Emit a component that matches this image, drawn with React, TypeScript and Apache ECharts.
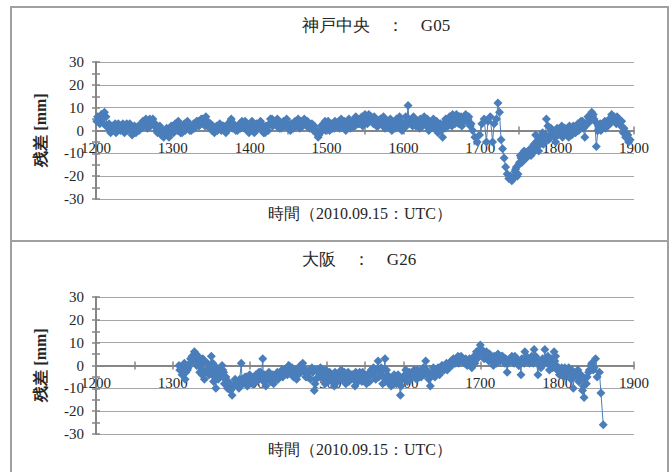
import { useEffect, useRef } from "react";
import * as echarts from "echarts";

const kobeTitle = "神戸中央　：　G05";
const osakaTitle = "大阪　：　G26";
const yName = "残差 [mm]";
const xName = "時間（2010.09.15：UTC）";

const xMin = 1200;
const xMax = 1900;
const yMin = -30;
const yMax = 30;

// 神戸中央 G05 residuals [time, mm]
const kobeData: number[][] = [
  [1201, 4], [1204, 5], [1207, 7], [1210, 3], [1213, 6], [1216, 1], [1219, -1], [1222, 2], [1225, 3], [1228, 0],
  [1231, 2], [1234, 1], [1237, -1], [1240, 3], [1243, 2], [1246, 0], [1249, 1], [1252, -1], [1255, 2], [1258, 1],
  [1261, 4], [1264, 3], [1267, 1], [1270, 5], [1273, 4], [1276, 2], [1279, 0], [1282, 1], [1285, -2], [1288, -3],
  [1291, -1], [1294, -2], [1297, 0], [1300, 1], [1303, 3], [1306, 0], [1309, 2], [1312, -1], [1315, 3], [1318, 1],
  [1321, 2], [1324, 0], [1327, 3], [1330, 2], [1333, 4], [1336, 3], [1339, 5], [1342, 2], [1345, 4], [1348, 1],
  [1351, 0], [1354, -1], [1357, 2], [1360, 1], [1363, 0], [1366, 2], [1369, -1], [1372, 3], [1375, 4], [1378, 1],
  [1381, 2], [1384, 0], [1387, 3], [1390, 4], [1393, 1], [1396, 2], [1399, -1], [1402, 3], [1405, 1], [1408, 0],
  [1411, 2], [1414, 4], [1417, 1], [1420, -1], [1423, 2], [1426, 3], [1429, 5], [1432, 4], [1435, 2], [1438, 3],
  [1441, 1], [1444, 4], [1447, 2], [1450, 3], [1453, 0], [1456, 2], [1459, 4], [1462, 3], [1465, 1], [1468, 4],
  [1471, 5], [1474, 2], [1477, 3], [1480, 1], [1483, 0], [1486, -1], [1489, -3], [1492, -1], [1495, 1], [1498, 4],
  [1501, 2], [1504, 0], [1507, 3], [1510, 1], [1513, 2], [1516, 4], [1519, 5], [1522, 2], [1525, 0], [1528, 3],
  [1531, 1], [1534, 4], [1537, 2], [1540, 5], [1543, 3], [1546, 6], [1549, 4], [1552, 5], [1555, 7], [1558, 6],
  [1561, 3], [1564, 4], [1567, 2], [1570, 5], [1573, 3], [1576, 1], [1579, 4], [1582, 2], [1585, 0], [1588, 3],
  [1591, 5], [1594, 2], [1597, 4], [1600, 1], [1603, 6], [1606, 11], [1609, 4], [1612, 2], [1615, 5], [1618, 3],
  [1621, 1], [1624, 4], [1627, 6], [1630, 2], [1633, 0], [1636, 3], [1639, 5], [1642, 2], [1645, -1], [1648, 3],
  [1651, -3], [1654, 1], [1657, 4], [1660, 6], [1663, 2], [1666, 5], [1669, 7], [1672, 3], [1675, 6], [1678, 4],
  [1681, 7], [1684, 5], [1687, 2], [1690, 0], [1693, -3], [1696, -5], [1699, -2], [1702, 3], [1705, 5], [1708, -5],
  [1710, 4], [1713, 6], [1716, -5], [1718, 3], [1721, 5], [1723, 12], [1725, 8], [1727, -4], [1729, -8], [1731, -12],
  [1733, -16], [1735, -19], [1737, -21], [1739, -20], [1741, -22], [1743, -21], [1745, -18], [1747, -16], [1749, -19], [1751, -14],
  [1753, -12], [1756, -13], [1759, -10], [1762, -11], [1765, -8], [1768, -10], [1770, -6], [1772, -2], [1775, -7], [1778, -4],
  [1781, -1], [1784, -5], [1786, 5], [1788, 2], [1791, -2], [1794, 0], [1797, -3], [1800, 1], [1803, -1], [1806, 2],
  [1809, -2], [1812, 0], [1815, -3], [1818, 1], [1821, 2], [1824, -1], [1827, 3], [1830, 2], [1833, 4], [1836, -3],
  [1839, 3], [1842, 5], [1845, 8], [1847, 7], [1849, 4], [1851, -7], [1853, 0], [1856, 3], [1859, 1], [1862, 4],
  [1865, 2], [1868, 5], [1871, 7], [1874, 6], [1877, 3], [1880, 5], [1883, 2], [1886, -1], [1889, -3], [1892, -2],
  [1895, -4],
];

// 神戸中央 G05 residuals, in-between epochs [time, mm]
const kobeDataMid: number[][] = [
  [1202, 6], [1205, 3], [1208, 5], [1211, 8], [1214, 2], [1217, 3], [1220, 0], [1223, 1], [1226, -1], [1229, 3],
  [1232, 0], [1235, 3], [1238, 2], [1241, 0], [1244, 3], [1247, -2], [1250, 2], [1253, 1], [1256, 0], [1259, 3],
  [1262, 2], [1265, 5], [1268, 3], [1271, 2], [1274, 5], [1277, 3], [1280, -1], [1283, 2], [1286, 0], [1289, -2],
  [1292, 1], [1295, -3], [1298, 2], [1301, -1], [1304, 1], [1307, 4], [1310, -1], [1313, 2], [1316, 0], [1319, 4],
  [1322, 0], [1325, 2], [1328, 1], [1331, 4], [1334, 2], [1337, 5], [1340, 3], [1343, 6], [1346, 2], [1349, 3],
  [1352, 2], [1355, 1], [1358, 0], [1361, 3], [1364, 2], [1367, 0], [1370, 2], [1373, 1], [1376, 5], [1379, 3],
  [1382, 0], [1385, 2], [1388, 1], [1391, 2], [1394, 4], [1397, 0], [1400, 2], [1403, 4], [1406, -1], [1409, 3],
  [1412, 1], [1415, 3], [1418, -1], [1421, 2], [1424, 0], [1427, 5], [1430, 2], [1433, 3], [1436, 5], [1439, 1],
  [1442, 3], [1445, 2], [1448, 5], [1451, 1], [1454, 3], [1457, 1], [1460, 2], [1463, 5], [1466, 3], [1469, 2],
  [1472, 3], [1475, 4], [1478, 1], [1481, 3], [1484, 2], [1487, 0], [1490, -2], [1493, 2], [1496, 3], [1499, 0],
  [1502, 4], [1505, 2], [1508, 1], [1511, 4], [1514, 3], [1517, 1], [1520, 3], [1523, 4], [1526, 2], [1529, 5],
  [1532, 3], [1535, 2], [1538, 6], [1541, 3], [1544, 5], [1547, 2], [1550, 7], [1553, 3], [1556, 5], [1559, 4],
  [1562, 6], [1565, 2], [1568, 4], [1571, 3], [1574, 6], [1577, 3], [1580, 2], [1583, 5], [1586, 3], [1589, 1],
  [1592, 3], [1595, 6], [1598, 0], [1601, 3], [1604, 2], [1607, 5], [1610, 3], [1613, 6], [1616, 2], [1619, 4],
  [1622, 5], [1625, 2], [1628, 3], [1631, 5], [1634, 2], [1637, 4], [1640, 1], [1643, 4], [1646, 2], [1649, 0],
  [1652, 3], [1655, 5], [1658, 2], [1661, 4], [1664, 7], [1667, 3], [1670, 5], [1673, 6], [1676, 2], [1679, 6],
  [1682, 4], [1685, 6], [1688, 3],
  [1744, -20], [1746, -17], [1748, -20], [1750, -15], [1752, -11], [1754, -14], [1757, -9], [1760, -12], [1763, -9], [1766, -11],
  [1769, -8], [1773, -5], [1776, -9], [1779, -3], [1782, -6], [1785, -2], [1789, -4], [1792, 1], [1795, -2], [1798, -5],
  [1801, -2], [1804, 0], [1807, -3], [1810, 1], [1813, -1], [1816, 2], [1819, -2], [1822, 0], [1825, 2], [1828, 0],
  [1831, 4], [1834, 1], [1837, 2], [1840, 6], [1843, 4], [1846, 6], [1848, 5], [1854, 2], [1857, 0], [1860, 3],
  [1863, 1], [1866, 4], [1869, 3], [1872, 5], [1875, 4], [1878, 6], [1881, 3], [1884, 4], [1887, 1], [1890, -1],
  [1893, -5],
];

// 大阪 G26 residuals [time, mm]
const osakaData: number[][] = [
  [1308, 0], [1311, -1], [1314, -3], [1316, -6], [1319, -2], [1322, 1], [1325, 4], [1328, 6], [1330, 5], [1332, 2],
  [1335, -3], [1337, 1], [1339, 3], [1341, -6], [1344, -2], [1347, -4], [1350, 4], [1352, 1], [1354, -5], [1356, -10],
  [1358, -4], [1361, -2], [1364, 0], [1366, -3], [1368, -6], [1371, -10], [1374, -8], [1377, -13], [1380, -9], [1383, -7],
  [1386, -10], [1389, 1], [1390, -6], [1393, -7], [1396, -5], [1399, -8], [1402, -6], [1405, -8], [1408, -4], [1411, -6],
  [1414, -3], [1417, 3], [1418, -7], [1421, -9], [1424, -5], [1427, -7], [1430, -4], [1433, -6], [1436, -3], [1439, -5],
  [1442, -2], [1445, -4], [1448, -1], [1451, 0], [1454, -3], [1457, -5], [1460, -2], [1463, -4], [1466, 0], [1469, 1],
  [1472, -3], [1475, -5], [1478, -2], [1481, -1], [1484, -11], [1486, -6], [1489, -3], [1492, -1], [1495, -4], [1498, -8],
  [1501, -5], [1504, -3], [1507, -7], [1510, -9], [1513, -4], [1516, -6], [1519, -2], [1522, -5], [1525, -8], [1528, -3],
  [1531, -6], [1534, -4], [1537, -9], [1540, -5], [1543, -3], [1546, -7], [1549, -5], [1552, -8], [1555, -4], [1558, -2],
  [1561, -1], [1564, -6], [1567, 2], [1570, -3], [1573, -8], [1576, 3], [1578, -2], [1581, -6], [1584, -9], [1587, -5],
  [1590, -7], [1593, -4], [1596, -13], [1599, -6], [1602, -4], [1605, -7], [1608, -3], [1611, -5], [1614, -2], [1617, -6],
  [1620, -3], [1623, -5], [1626, -1], [1629, 2], [1632, -4], [1635, -9], [1638, -3], [1641, -5], [1644, -2], [1647, -4],
  [1650, 0], [1653, -2], [1656, 1], [1659, -1], [1662, 2], [1665, 3], [1668, 1], [1671, 4], [1674, 2], [1677, 3],
  [1680, 1], [1683, 0], [1686, 3], [1689, -1], [1692, 4], [1695, 6], [1698, 5], [1700, 9], [1702, 7], [1705, 3],
  [1708, 6], [1711, 2], [1714, 4], [1717, 0], [1720, 3], [1723, 5], [1726, 2], [1729, 4], [1732, 1], [1735, -3],
  [1738, 2], [1741, 4], [1744, 1], [1747, 3], [1750, 0], [1753, -4], [1756, 2], [1758, 6], [1761, 3], [1764, 1],
  [1767, 4], [1770, 7], [1773, 2], [1775, -4], [1778, 0], [1781, 3], [1784, 7], [1787, 1], [1790, -2], [1793, 3],
  [1796, 6], [1798, 4], [1800, -2], [1803, -4], [1806, -1], [1809, -5], [1812, -3], [1815, -1], [1818, -6], [1821, -10],
  [1824, -4], [1827, -2], [1830, -6], [1833, -11], [1835, -14], [1838, -8], [1841, -3], [1844, 0], [1847, -2], [1850, 3],
  [1852, -5], [1855, -3], [1857, -12], [1860, -26],
];

// 大阪 G26 residuals, in-between epochs [time, mm]
const osakaDataMid: number[][] = [
  [1309, -2], [1312, -4], [1315, 1], [1317, -3], [1320, -1], [1323, 3], [1326, 2], [1329, 3], [1331, 0], [1333, 4],
  [1336, -1], [1338, -4], [1340, 2], [1342, -3], [1345, 1], [1348, -1], [1351, -2], [1353, -7], [1355, -3], [1357, -1],
  [1359, -6], [1362, -4], [1365, -2], [1367, -8], [1369, -5], [1372, -7], [1375, -11], [1378, -9], [1381, -6], [1384, -8],
  [1387, -6], [1391, -8], [1394, -5], [1397, -9], [1400, -4], [1403, -7], [1406, -5], [1409, -7], [1412, -3], [1415, -5],
  [1419, -4], [1422, -6], [1425, -3], [1428, -5], [1431, -8], [1434, -4], [1437, -6], [1440, -3], [1443, -5], [1446, -2],
  [1449, -4], [1452, -2], [1455, -1], [1458, -3], [1461, -6], [1464, -2], [1467, -3], [1470, -1], [1473, -5], [1476, -3],
  [1479, -6], [1482, -3], [1485, -8], [1487, -2], [1490, -5], [1493, -3], [1496, -6], [1499, -2], [1502, -7], [1505, -4],
  [1508, -5], [1511, -3], [1514, -7], [1517, -4], [1520, -6], [1523, -3], [1526, -5], [1529, -7], [1532, -4], [1535, -6],
  [1538, -3], [1541, -7], [1544, -5], [1547, -3], [1550, -6], [1553, -4], [1556, -7], [1559, -4], [1562, -3], [1565, -2],
  [1568, -5], [1571, -1], [1574, -5], [1577, -7], [1579, -4], [1582, -8], [1585, -6], [1588, -4], [1591, -8], [1594, -6],
  [1597, -9], [1600, -5], [1603, -2], [1606, -5], [1609, -6], [1612, -3], [1615, -4], [1618, -2], [1621, -5], [1624, -3],
  [1627, -4], [1630, -2], [1633, -6], [1636, -4], [1639, -1], [1642, -3], [1645, -1], [1648, -3], [1651, -1], [1654, 0],
  [1657, -2], [1660, 1], [1663, 0], [1666, 2], [1669, 3], [1672, 1], [1675, 4], [1678, 2], [1681, 3], [1684, 2],
  [1687, 1], [1690, 2], [1693, 1], [1696, 3], [1699, 7], [1701, 5], [1704, 6], [1706, 4], [1709, 3], [1712, 5],
  [1715, 2], [1718, 4], [1721, 1], [1724, 3], [1727, 4], [1730, 2], [1733, 3], [1736, 1], [1739, 3], [1742, 2],
  [1745, 4], [1748, 1], [1751, 2], [1754, 3], [1757, 1], [1760, 4], [1763, 2], [1766, 3], [1769, 1], [1772, 4],
  [1776, 2], [1779, -1], [1782, 1], [1785, 3], [1788, 4], [1791, 1], [1794, -1], [1797, 2], [1799, 0], [1801, -1],
  [1804, -3], [1807, -2], [1810, -1], [1813, -4], [1816, -3], [1819, -2], [1822, -5], [1825, -3], [1828, -7], [1831, -4],
  [1834, -9], [1836, -6], [1839, -5], [1842, -2], [1845, 1], [1848, -1],
];

const SERIF = "Liberation Serif";
const AXIS_COLOR = "#868686";
const GRID_COLOR = "#a6a6a6";
const MARK_COLOR = "#4A7EBB";
const TEXT_COLOR = "#262626";

const PLOT_LEFT = 96;
const PLOT_WIDTH = 538;
const PLOT_HEIGHT = 137;
const PANEL_TOPS = [62, 297];

const tickStyle = { color: AXIS_COLOR, width: 1.5 };

function merged(a: number[][], b: number[][]) {
  return [...a, ...b].sort((p, q) => p[0] - q[0]);
}

function panelAxes(mainGrid: number, carrierGrid: number) {
  const xAxes = [
    {
      gridIndex: mainGrid,
      type: "value",
      position: "bottom",
      min: xMin,
      max: xMax,
      interval: 50,
      show: false,
      axisLine: { onZero: false },
    },
    {
      gridIndex: carrierGrid,
      type: "value",
      position: "bottom",
      min: xMin,
      max: xMax,
      interval: 50,
      axisLine: { show: true, onZero: false, lineStyle: { color: AXIS_COLOR, width: 2 } },
      axisTick: { show: true, length: 4, lineStyle: tickStyle },
      axisLabel: {
        margin: 10,
        color: TEXT_COLOR,
        fontSize: 15,
        fontFamily: SERIF,
        formatter: (v: number) => (v % 100 === 0 ? String(v) : ""),
      },
      splitLine: { show: false },
    },
    {
      gridIndex: carrierGrid,
      type: "value",
      position: "bottom",
      min: xMin,
      max: xMax,
      interval: 50,
      axisLine: { show: false, onZero: false },
      axisTick: { show: true, inside: true, length: 4, lineStyle: tickStyle },
      axisLabel: { show: false },
      splitLine: { show: false },
    },
  ];
  const yAxes = [
    {
      gridIndex: mainGrid,
      type: "value",
      position: "left",
      min: yMin,
      max: yMax,
      interval: 5,
      axisLine: { show: true, onZero: false, lineStyle: { color: AXIS_COLOR, width: 2 } },
      axisTick: { show: true, length: 4, lineStyle: tickStyle },
      axisLabel: {
        margin: 12,
        color: TEXT_COLOR,
        fontSize: 15,
        fontFamily: SERIF,
        formatter: (v: number) => (v % 10 === 0 ? String(v) : ""),
      },
      splitLine: { show: false },
    },
    {
      gridIndex: mainGrid,
      type: "value",
      position: "left",
      min: yMin,
      max: yMax,
      interval: 5,
      axisLine: { show: false, onZero: false },
      axisTick: { show: true, inside: true, length: 4, lineStyle: tickStyle },
      axisLabel: { show: false },
      splitLine: { show: false },
    },
    {
      gridIndex: mainGrid,
      type: "value",
      position: "left",
      min: yMin,
      max: yMax,
      interval: 10,
      axisLine: { show: false, onZero: false },
      axisTick: { show: false },
      axisLabel: { show: false },
      splitLine: { show: true, lineStyle: { color: GRID_COLOR, width: 1.2 } },
    },
    {
      gridIndex: carrierGrid,
      type: "value",
      position: "left",
      min: 0,
      max: 1,
      show: false,
      axisLine: { onZero: false },
      splitLine: { show: false },
    },
  ];
  return { xAxes, yAxes };
}

function seriesFor(data: number[][], xAxisIndex: number, yAxisIndex: number) {
  return {
    type: "line",
    xAxisIndex,
    yAxisIndex,
    data,
    symbol: "diamond",
    symbolSize: 9,
    showAllSymbol: true,
    itemStyle: { color: MARK_COLOR },
    lineStyle: { color: MARK_COLOR, width: 1 },
    z: 5,
  };
}

function textEl(text: string, x: number, y: number, size: number, weight: string | number, rotation = 0) {
  return {
    type: "text",
    x,
    y,
    rotation,
    z: 10,
    style: {
      text,
      fill: TEXT_COLOR,
      fontSize: size,
      fontWeight: weight,
      fontFamily: SERIF,
      align: "center",
      verticalAlign: "middle",
      textAlign: "center",
      textVerticalAlign: "middle",
    },
  };
}

export default function App() {
  const ref = useRef<HTMLDivElement>(null);

  useEffect(() => {
    if (!ref.current) return;
    const chart = echarts.init(ref.current, undefined, { renderer: "svg" });
    const top = panelAxes(0, 1);
    const bottom = panelAxes(2, 3);
    const grids: any[] = [];
    PANEL_TOPS.forEach((t) => {
      grids.push({ left: PLOT_LEFT, top: t, width: PLOT_WIDTH, height: PLOT_HEIGHT });
      grids.push({ left: PLOT_LEFT, top: t, width: PLOT_WIDTH, height: PLOT_HEIGHT / 2 });
    });
    const option = {
      animation: false,
      backgroundColor: "#ffffff",
      grid: grids,
      xAxis: [...top.xAxes, ...bottom.xAxes],
      yAxis: [...top.yAxes, ...bottom.yAxes],
      series: [
        seriesFor(merged(kobeData, kobeDataMid), 0, 0),
        seriesFor(merged(osakaData, osakaDataMid), 3, 4),
      ],
      graphic: [
        {
          type: "polyline",
          z: 1,
          shape: { points: [[11, 472], [11, 7], [668, 7], [668, 472]] },
          style: { stroke: "#a0a0a0", lineWidth: 2, fill: "none" },
        },
        {
          type: "line",
          z: 1,
          shape: { x1: 11, y1: 241, x2: 668, y2: 241 },
          style: { stroke: "#a0a0a0", lineWidth: 2 },
        },
        textEl(kobeTitle, 376, 25, 17, "normal"),
        textEl(osakaTitle, 359, 259, 17, "normal"),
        textEl(yName, 40, 130, 16, "bold", Math.PI / 2),
        textEl(yName, 40, 365, 16, "bold", Math.PI / 2),
        textEl(xName, 360, 213, 16, 500),
        textEl(xName, 360, 449, 16, 500),
      ],
    };
    chart.setOption(option as any);
    return () => chart.dispose();
  }, []);

  return (
    <div
      ref={ref}
      style={{ position: "absolute", left: 0, top: 0, width: 670, height: 472 }}
    />
  );
}
